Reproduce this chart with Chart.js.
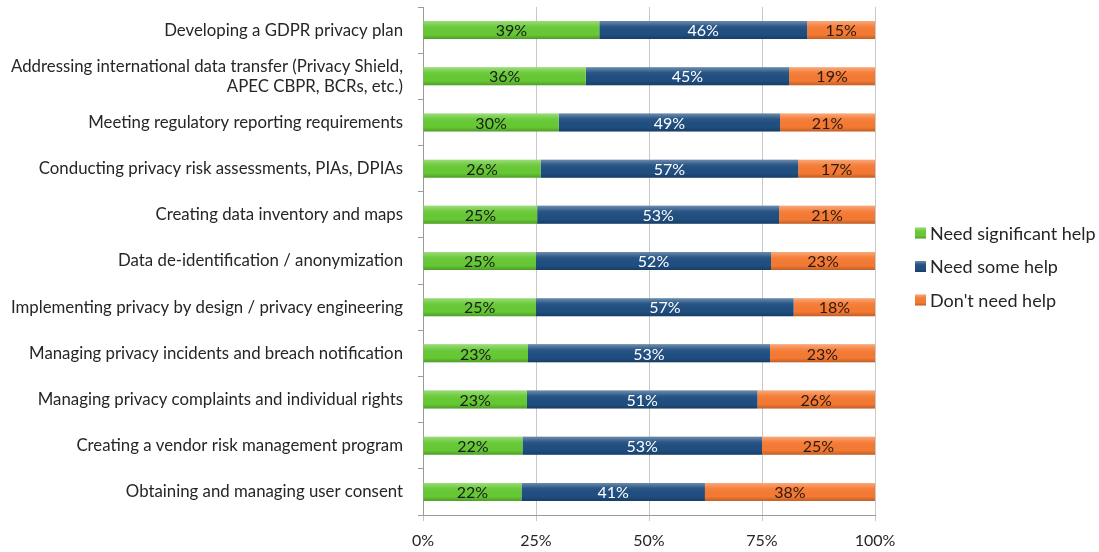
<!DOCTYPE html>
<html>
<head>
<meta charset="utf-8">
<script src="https://cdn.jsdelivr.net/npm/chart.js@4.4.0/dist/chart.umd.min.js"></script>
<style>
  html, body { margin: 0; padding: 0; background: #ffffff; }
  #wrap { width: 1099px; height: 552px; position: relative; }
</style>
</head>
<body>
<div id="wrap"><canvas id="myChart"></canvas></div>
<script>
var categories = [
    "Developing a GDPR privacy plan",
    ["Addressing international data transfer (Privacy Shield,", "APEC CBPR, BCRs, etc.)"],
    "Meeting regulatory reporting requirements",
    "Conducting privacy risk assessments, PIAs, DPIAs",
    "Creating data inventory and maps",
    "Data de-identification / anonymization",
    "Implementing privacy by design / privacy engineering",
    "Managing privacy incidents and breach notification",
    "Managing privacy complaints and individual rights",
    "Creating a vendor risk management program",
    "Obtaining and managing user consent"
];
var significantHelp = [39, 36, 30, 26, 25, 25, 25, 23, 23, 22, 22];
var someHelp        = [46, 45, 49, 57, 53, 52, 57, 53, 51, 53, 41];
var noHelp          = [15, 19, 21, 17, 21, 23, 18, 23, 26, 25, 38];
var seriesNames = ["Need significant help", "Need some help", "Don't need help"];
var xTicks = [0, 25, 50, 75, 100];

var barColors = ["#66c934", "#1f4e80", "#f57a33"];
var labelColors = ["#1b1b1b", "#ffffff", "#2a1a10"];

// bars fill 100% of each row, labels keep the rounded survey numbers
function share(values, i) {
    var total = significantHelp[i] + someHelp[i] + noHelp[i];
    return values[i] / total * 100;
}
var raw = [significantHelp, someHelp, noHelp];
var datasets = raw.map(function (values, k) {
    return {
        label: seriesNames[k],
        data: values.map(function (v, i) { return share(values, i); }),
        rawValues: values,
        backgroundColor: barColors[k],
        borderWidth: 0,
        barPercentage: 0.78,
        categoryPercentage: 0.5
    };
});

function bevel(ctx, x, y, w, h) {
    var g = ctx.createLinearGradient(0, y, 0, y + h);
    g.addColorStop(0, "rgba(255,255,255,0.35)");
    g.addColorStop(0.3, "rgba(255,255,255,0.05)");
    g.addColorStop(0.75, "rgba(0,0,0,0)");
    g.addColorStop(1, "rgba(0,0,0,0.22)");
    ctx.fillStyle = g;
    ctx.fillRect(x, y, w, h);
}

// excel-ish bevel on the bars + value labels in the middle
var barLabels = {
    id: "barLabels",
    afterDatasetsDraw: function (chart) {
        var ctx = chart.ctx;
        ctx.save();
        chart.data.datasets.forEach(function (ds, k) {
            chart.getDatasetMeta(k).data.forEach(function (bar) {
                bevel(ctx, Math.min(bar.x, bar.base), bar.y - bar.height / 2,
                      Math.abs(bar.x - bar.base), bar.height);
            });
        });
        ctx.font = "16px Lato";
        ctx.textAlign = "center";
        ctx.textBaseline = "middle";
        chart.data.datasets.forEach(function (ds, k) {
            chart.getDatasetMeta(k).data.forEach(function (bar, i) {
                var cx = (bar.x + bar.base) / 2;
                ctx.fillStyle = labelColors[k];
                ctx.fillText(ds.rawValues[i] + "%", cx, bar.y + 1);
            });
        });
        ctx.restore();
    }
};

// legend to the right of the plot, like the excel one
var sideLegend = {
    id: "sideLegend",
    afterDraw: function (chart) {
        var ctx = chart.ctx;
        var area = chart.chartArea;
        var x = area.right + 40;
        var y0 = (area.top + area.bottom) / 2 - 28;
        ctx.save();
        ctx.font = "18px Lato";
        ctx.textBaseline = "middle";
        ctx.textAlign = "left";
        chart.data.datasets.forEach(function (ds, k) {
            var y = y0 + k * 33.5;
            ctx.fillStyle = ds.backgroundColor;
            ctx.fillRect(x, y - 5.5, 11, 11);
            bevel(ctx, x, y - 5.5, 11, 11);
            ctx.fillStyle = "#262626";
            ctx.fillText(ds.label, x + 15, y + 1);
        });
        ctx.restore();
    }
};

Chart.defaults.font.family = "Lato";
Chart.defaults.color = "#262626";

new Chart("myChart", {
    type: "bar",
    data: {
        labels: categories,
        datasets: datasets
    },
    options: {
        indexAxis: "y",
        responsive: true,
        maintainAspectRatio: false,
        animation: false,
        layout: { padding: { top: 7, left: 6, right: 224, bottom: 0 } },
        plugins: {
            legend: { display: false },
            tooltip: { enabled: false }
        },
        scales: {
            x: {
                stacked: true,
                min: 0,
                max: 100,
                afterBuildTicks: function (axis) {
                    axis.ticks = xTicks.map(function (v) { return { value: v }; });
                },
                afterFit: function (axis) {
                    axis.height = 37;
                },
                ticks: {
                    font: { size: 16 },
                    color: "#262626",
                    padding: 10,
                    callback: function (v) { return v + "%"; }
                },
                grid: { color: "#c8c8c8", tickLength: 6 },
                border: { color: "#9a9a9a" }
            },
            y: {
                stacked: true,
                afterFit: function (axis) {
                    axis.width = 417;
                    axis.paddingTop = 0;
                    axis.paddingBottom = 0;
                },
                ticks: {
                    font: { size: 16.8 },
                    color: "#262626",
                    padding: 15
                },
                grid: { offset: true, drawOnChartArea: false, color: "#9a9a9a", tickLength: 5 },
                border: { color: "#9a9a9a" }
            }
        }
    },
    plugins: [barLabels, sideLegend]
});
</script>
</body>
</html>
